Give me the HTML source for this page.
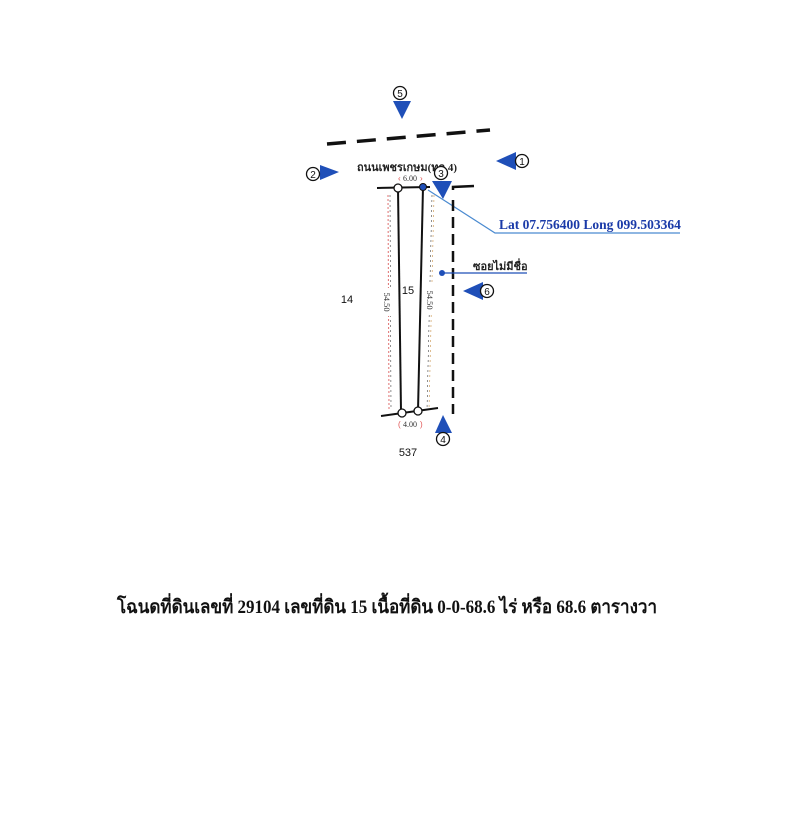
<!DOCTYPE html>
<html><head><meta charset="utf-8"><style>
html,body{margin:0;padding:0;background:#fff;}
svg{display:block;}
</style></head><body>
<svg width="793" height="828" viewBox="0 0 793 828" xmlns="http://www.w3.org/2000/svg">
<rect width="793" height="828" fill="#fff"/>
<line x1="327" y1="144" x2="490" y2="130" stroke="#111" stroke-width="3.5" stroke-dasharray="19,11"/>
<circle cx="400" cy="93" r="6.5" fill="#fff" stroke="#111" stroke-width="1.3"/>
<text x="400" y="97" font-family="Liberation Sans,sans-serif" font-size="10" text-anchor="middle" fill="#111">5</text>
<polygon points="393,101 411,101 402,119" fill="#1f4fb8"/>
<polygon points="496,161 516,152 516,170" fill="#1f4fb8"/>
<circle cx="522" cy="161" r="6.5" fill="#fff" stroke="#111" stroke-width="1.3"/>
<text x="522" y="165" font-family="Liberation Sans,sans-serif" font-size="10" text-anchor="middle" fill="#111">1</text>
<polygon points="320,165 339,172 320,180" fill="#1f4fb8"/>
<circle cx="313" cy="174" r="6.5" fill="#fff" stroke="#111" stroke-width="1.3"/>
<text x="313" y="178" font-family="Liberation Sans,sans-serif" font-size="10" text-anchor="middle" fill="#111">2</text>
<text x="357" y="171" font-family="Liberation Serif,serif" font-size="11" font-weight="bold" fill="#222" textLength="100" lengthAdjust="spacingAndGlyphs">ถนนเพชรเกษม(ทล.4)</text>
<text x="410" y="181" font-family="Liberation Serif,serif" font-size="8" text-anchor="middle" fill="#333">6.00</text>
<text x="398" y="181" font-family="Liberation Sans,sans-serif" font-size="8" fill="#e05050">‹</text>
<text x="420" y="181" font-family="Liberation Sans,sans-serif" font-size="8" fill="#e05050">›</text>
<circle cx="441" cy="173" r="6.5" fill="#fff" stroke="#111" stroke-width="1.3"/>
<text x="441" y="177" font-family="Liberation Sans,sans-serif" font-size="10" text-anchor="middle" fill="#111">3</text>
<polygon points="432,181 452,181 443,199" fill="#1f4fb8"/>
<polyline points="428,190 495,233 680,233" fill="none" stroke="#4a8ad0" stroke-width="1.2"/>
<text x="499" y="229" font-family="Liberation Serif,serif" font-size="13.5" font-weight="bold" fill="#1a3aa8">Lat 07.756400 Long 099.503364</text>
<line x1="388" y1="195" x2="389" y2="410" stroke="#e07070" stroke-width="1" stroke-dasharray="2,2"/>
<line x1="390" y1="195" x2="391" y2="410" stroke="#444" stroke-width="0.6" stroke-dasharray="2,3"/>
<line x1="432" y1="195" x2="427" y2="410" stroke="#444" stroke-width="0.6" stroke-dasharray="2,3"/>
<line x1="434" y1="195" x2="429" y2="410" stroke="#d0a060" stroke-width="0.7" stroke-dasharray="2,3"/>
<rect x="382" y="288" width="10" height="28" fill="#fff"/>
<rect x="425" y="285" width="10" height="28" fill="#fff"/>
<text transform="translate(384,302) rotate(90)" font-family="Liberation Serif,serif" font-size="8.5" text-anchor="middle" fill="#333">54.50</text>
<text transform="translate(427,300) rotate(90)" font-family="Liberation Serif,serif" font-size="8.5" text-anchor="middle" fill="#333">54.50</text>
<line x1="377" y1="188" x2="430" y2="187" stroke="#111" stroke-width="2"/>
<line x1="398" y1="188" x2="401" y2="412" stroke="#111" stroke-width="2"/>
<line x1="423" y1="187" x2="418" y2="411" stroke="#111" stroke-width="2"/>
<line x1="381" y1="416" x2="438" y2="408" stroke="#111" stroke-width="2"/>
<circle cx="398" cy="188" r="4" fill="#fff" stroke="#111" stroke-width="1.3"/>
<circle cx="423" cy="187" r="3.5" fill="#1f4fb8" stroke="#111" stroke-width="1"/>
<circle cx="402" cy="413" r="4" fill="#fff" stroke="#111" stroke-width="1.3"/>
<circle cx="418" cy="411" r="4" fill="#fff" stroke="#111" stroke-width="1.3"/>
<polyline points="474,186 453,187 453,190" fill="none" stroke="#111" stroke-width="2.5"/>
<line x1="453" y1="200" x2="453" y2="414" stroke="#111" stroke-width="2.5" stroke-dasharray="11,6"/>
<text x="473" y="270" font-family="Liberation Serif,serif" font-size="11" font-weight="bold" fill="#222">ซอยไม่มีชื่อ</text>
<line x1="442" y1="273" x2="527" y2="273" stroke="#1f4fb8" stroke-width="1.3"/>
<circle cx="442" cy="273" r="3" fill="#1f4fb8"/>
<polygon points="463,291 483,282 483,300" fill="#1f4fb8"/>
<circle cx="487" cy="291" r="6.5" fill="#fff" stroke="#111" stroke-width="1.3"/>
<text x="487" y="295" font-family="Liberation Sans,sans-serif" font-size="10" text-anchor="middle" fill="#111">6</text>
<text x="347" y="303" font-family="Liberation Sans,sans-serif" font-size="11" text-anchor="middle" fill="#111">14</text>
<text x="408" y="294" font-family="Liberation Sans,sans-serif" font-size="11" text-anchor="middle" fill="#111">15</text>
<text x="408" y="456" font-family="Liberation Sans,sans-serif" font-size="11" text-anchor="middle" fill="#111">537</text>
<text x="410" y="427" font-family="Liberation Serif,serif" font-size="8" text-anchor="middle" fill="#333">4.00</text>
<text x="398" y="427" font-family="Liberation Sans,sans-serif" font-size="8" fill="#e05050">(</text>
<text x="420" y="427" font-family="Liberation Sans,sans-serif" font-size="8" fill="#e05050">)</text>
<polygon points="435,433 452,433 443,415" fill="#1f4fb8"/>
<circle cx="443" cy="439" r="6.5" fill="#fff" stroke="#111" stroke-width="1.3"/>
<text x="443" y="443" font-family="Liberation Sans,sans-serif" font-size="10" text-anchor="middle" fill="#111">4</text>
<text x="387" y="613" font-family="Liberation Serif,serif" font-size="19" font-weight="bold" text-anchor="middle" fill="#111" textLength="540" lengthAdjust="spacingAndGlyphs">โฉนดที่ดินเลขที่ 29104 เลขที่ดิน 15 เนื้อที่ดิน 0-0-68.6 ไร่ หรือ 68.6 ตารางวา</text>
</svg>
</body></html>
